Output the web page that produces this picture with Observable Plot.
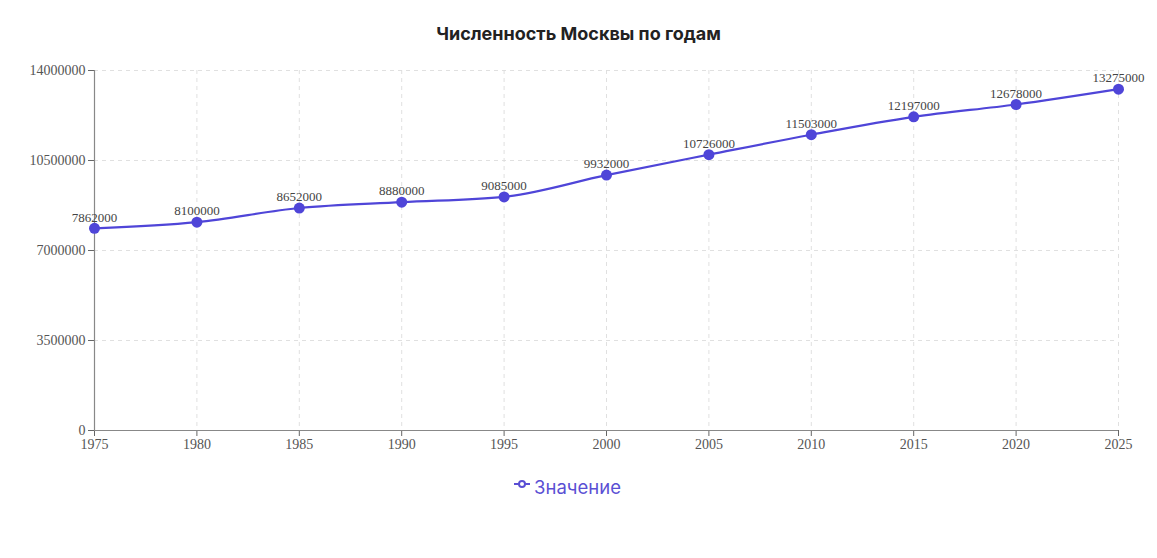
<!DOCTYPE html>
<html>
<head>
<meta charset="utf-8">
<script src="https://cdn.jsdelivr.net/npm/d3@7"></script>
<script src="https://cdn.jsdelivr.net/npm/@observablehq/plot@0.6"></script>
<style>
  body { margin: 0; background: #fff; width: 1157px; height: 558px; overflow: hidden; }
  #title { height: 55px; line-height: 68px; text-align: center; font-family: Inter, "Noto Sans", sans-serif; font-weight: 700; font-size: 18px; color: #222; }
  #chart svg { display: block; }
  #legend { text-align: center; font-family: Inter, "Noto Sans", sans-serif; font-size: 18.5px; color: #5a4fd4; margin-top: 16px; padding-right: 22px; }
  #legend svg { vertical-align: middle; margin-right: 4px; position: relative; top: -5px; }
</style>
</head>
<body>
<div id="title">Численность Москвы по годам</div>
<div id="chart"></div>
<div id="legend"><svg width="16" height="10"><line x1="0" y1="5" x2="16" y2="5" stroke="#5a4fd4" stroke-width="2"/><circle cx="8" cy="5" r="3" fill="#fff" stroke="#5a4fd4" stroke-width="2"/></svg>Значение</div>
<script>
const years = [1975, 1980, 1985, 1990, 1995, 2000, 2005, 2010, 2015, 2020, 2025];
const population = [7862000, 8100000, 8652000, 8880000, 9085000, 9932000, 10726000, 11503000, 12197000, 12678000, 13275000];
const yTicks = [0, 3500000, 7000000, 10500000, 14000000];

const data = years.map((y, i) => ({year: y, value: population[i]}));
const color = "#4f45d8";
const serif = "'Liberation Serif', 'DejaVu Serif', serif";

const chart = Plot.plot({
  width: 1157,
  height: 405,
  marginLeft: 94,
  marginRight: 39,
  marginTop: 15,
  marginBottom: 30,
  style: {fontFamily: serif, fontSize: "14px", color: "#555", background: "#fff"},
  x: {domain: [1975, 2025], ticks: years, tickFormat: d => String(d), label: null},
  y: {domain: [0, 14000000], ticks: yTicks, tickFormat: d => String(d), label: null},
  marks: [
    Plot.gridX(years, {stroke: "#ddd", strokeOpacity: 0.9, strokeDasharray: "4,4"}),
    Plot.gridY(yTicks, {stroke: "#ddd", strokeOpacity: 0.9, strokeDasharray: "4,4"}),
    Plot.axisX({ticks: years, tickFormat: d => String(d), stroke: "#666", tickSize: 6, tickPadding: 3, fill: "#555", label: null, fontSize: 14}),
    Plot.axisY({ticks: yTicks, tickFormat: d => String(d), stroke: "#666", tickSize: 6, tickPadding: 3, fill: "#555", label: null, fontSize: 14}),
    Plot.ruleY([0], {stroke: "#888", strokeWidth: 1.2}),
    Plot.ruleX([1975], {stroke: "#888", strokeWidth: 1.2}),
    Plot.line(data, {x: "year", y: "value", stroke: color, strokeWidth: 2.2, curve: "monotone-x"}),
    Plot.dot(data, {x: "year", y: "value", fill: color, r: 5.5}),
    Plot.text(data, {x: "year", y: "value", text: d => String(d.value), dy: -11, fill: "#444", fontSize: 13, fontFamily: serif})
  ]
});
document.getElementById("chart").appendChild(chart);
</script>
</body>
</html>
